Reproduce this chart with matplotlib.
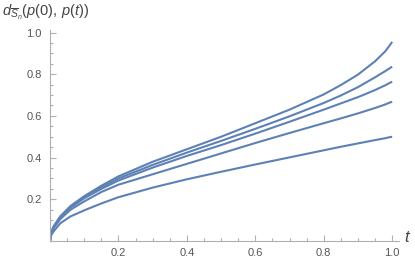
import matplotlib
matplotlib.use("Agg")
import matplotlib.pyplot as plt
from matplotlib.ticker import MultipleLocator, FixedLocator

# sample points
t = [0, 0.003, 0.01, 0.03, 0.06, 0.1, 0.15, 0.2, 0.3, 0.4, 0.5, 0.6, 0.7, 0.8, 0.85, 0.9, 0.95, 0.98, 0.99, 1.0]

curve_1 = [0, 0.04, 0.068, 0.118, 0.168, 0.215, 0.265, 0.31, 0.38, 0.44, 0.50, 0.565, 0.63, 0.703, 0.748, 0.798, 0.862, 0.91, 0.932, 0.955]
curve_2 = [0, 0.038, 0.067, 0.116, 0.165, 0.21, 0.258, 0.30, 0.365, 0.424, 0.48, 0.538, 0.598, 0.662, 0.698, 0.738, 0.785, 0.815, 0.826, 0.836]
curve_3 = [0, 0.037, 0.065, 0.113, 0.16, 0.205, 0.25, 0.29, 0.352, 0.408, 0.46, 0.515, 0.572, 0.63, 0.66, 0.69, 0.724, 0.747, 0.756, 0.764]
curve_4 = [0, 0.034, 0.06, 0.105, 0.15, 0.19, 0.235, 0.27, 0.32, 0.37, 0.42, 0.47, 0.518, 0.565, 0.588, 0.612, 0.638, 0.655, 0.662, 0.668]
curve_5 = [0, 0.026, 0.045, 0.085, 0.118, 0.147, 0.18, 0.21, 0.256, 0.296, 0.332, 0.367, 0.401, 0.435, 0.452, 0.468, 0.484, 0.493, 0.497, 0.5]

x_ticks = [0.2, 0.4, 0.6, 0.8, 1.0]
y_ticks = [0.2, 0.4, 0.6, 0.8, 1.0]

plt.rcParams['font.family'] = ['Liberation Sans', 'DejaVu Sans']
plt.rcParams['mathtext.fontset'] = 'custom'
plt.rcParams['mathtext.rm'] = 'Liberation Sans'
plt.rcParams['mathtext.it'] = 'Liberation Sans:italic'

line_color = '#5e81b5'
axis_color = '#b0b0b0'
text_color = '#555555'

fig = plt.figure(figsize=(4.15, 2.59), dpi=100)
ax = fig.add_axes([50 / 415, 18 / 259, 349 / 415, 211 / 259])

for ys in [curve_1, curve_2, curve_3, curve_4, curve_5]:
    ax.plot(t, ys, color=line_color, lw=1.5, solid_capstyle='butt',
            solid_joinstyle='round')

ax.set_xlim(0, 1.02)
ax.set_ylim(0, 1.012)

for s in ['top', 'right']:
    ax.spines[s].set_visible(False)
for s in ['left', 'bottom']:
    ax.spines[s].set_color(axis_color)
    ax.spines[s].set_linewidth(0.8)

ax.xaxis.set_major_locator(FixedLocator(x_ticks))
ax.yaxis.set_major_locator(FixedLocator(y_ticks))
ax.xaxis.set_minor_locator(MultipleLocator(0.05))
ax.yaxis.set_minor_locator(MultipleLocator(0.05))
ax.set_xticklabels([f'{v:.1f}' for v in x_ticks])
ax.set_yticklabels([f'{v:.1f}' for v in y_ticks])

ax.tick_params(which='both', direction='in', color=axis_color, width=0.8,
               labelcolor=text_color, labelsize=8)
ax.tick_params(which='major', length=4)
ax.tick_params(which='minor', length=2.2)
ax.tick_params(axis='x', pad=5)
ax.tick_params(axis='y', pad=6)

fig.text(2 / 415, 1 - 3 / 259, r'$d_{\overline{S}_n}(p(0),\, p(t))$',
         fontsize=10.5, color='#444444', va='top', ha='left')
fig.text(404 / 415, 1 - 238 / 259, r'$t$', fontsize=12,
         color='#444444', va='center', ha='left')

fig.savefig('out.png', dpi=100)
